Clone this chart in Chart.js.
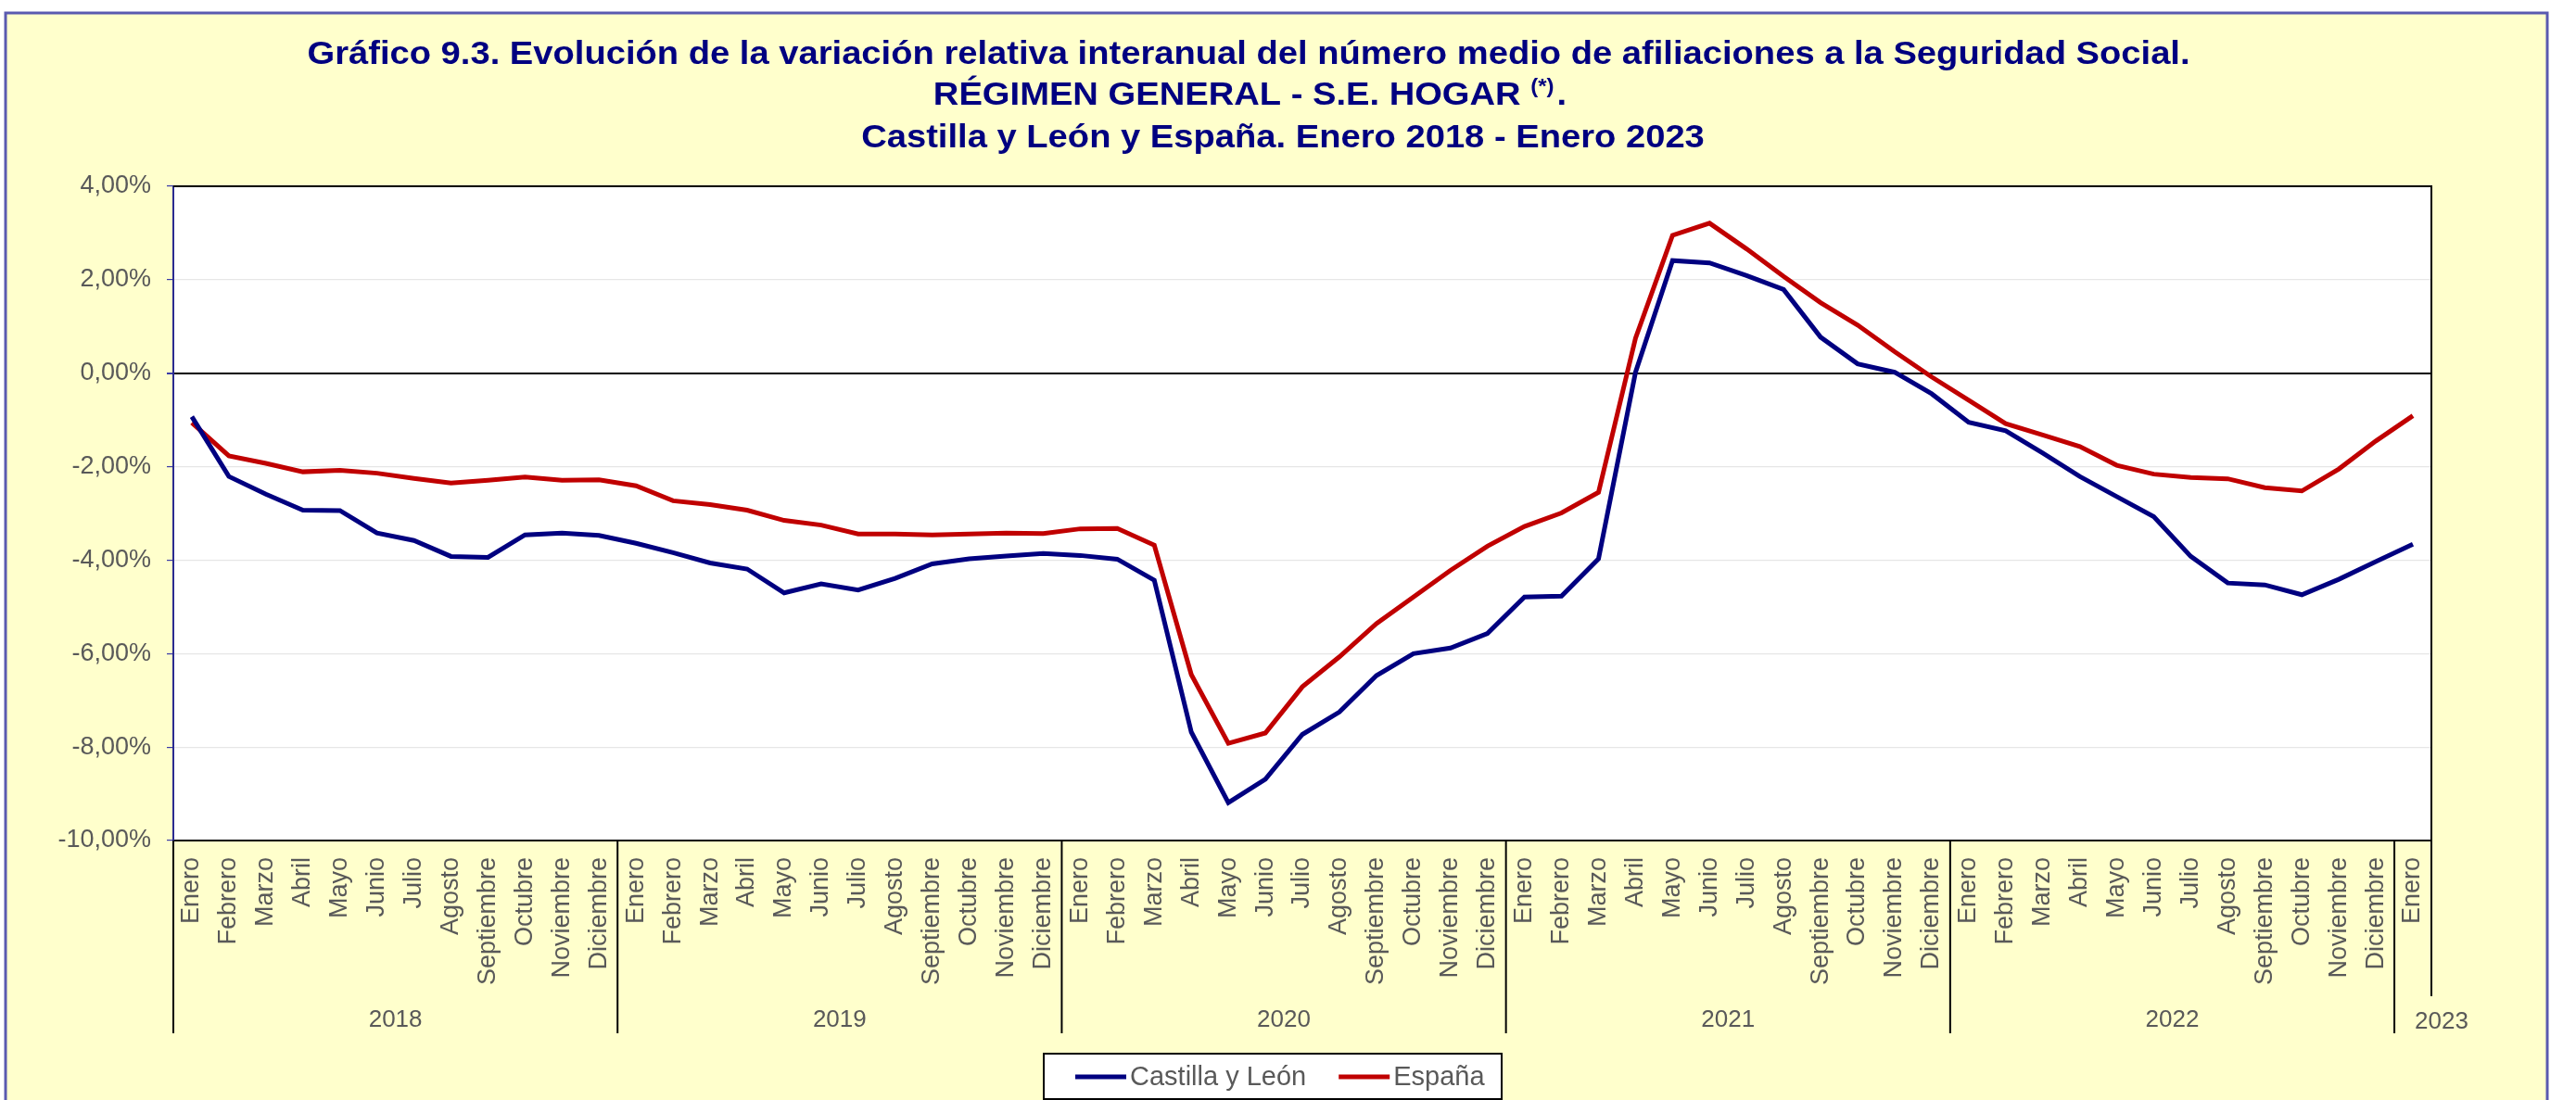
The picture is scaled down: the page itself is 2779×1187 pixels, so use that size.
<!DOCTYPE html>
<html>
<head>
<meta charset="utf-8">
<script src="https://cdn.jsdelivr.net/npm/chart.js@4"></script>
<style>
  body { margin: 0; background: #fff; }
  canvas { display: block; }
</style>
</head>
<body>
<canvas id="grafico" width="2779" height="1187"></canvas>
<script>
var meses = ['Enero','Febrero','Marzo','Abril','Mayo','Junio','Julio','Agosto','Septiembre','Octubre','Noviembre','Diciembre'];
var anios = [2018, 2019, 2020, 2021, 2022, 2023];
var mesesUltimoAnio = 1; // 2023 solo enero

var castillaLeon = [
  -0.93, -2.21, -2.59, -2.93, -2.94, -3.42, -3.58, -3.92, -3.94, -3.46, -3.42, -3.47,
  -3.64, -3.84, -4.06, -4.19, -4.70, -4.51, -4.64, -4.39, -4.08, -3.97, -3.91, -3.86,
  -3.90, -3.98, -4.43, -7.68, -9.19, -8.69, -7.73, -7.25, -6.47, -6.00, -5.88, -5.57,
  -4.79, -4.77, -3.97, 0.02, 2.41, 2.36, 2.09, 1.79, 0.77, 0.20, 0.02, -0.44,
  -1.05, -1.23, -1.71, -2.21, -2.64, -3.07, -3.92, -4.49, -4.53, -4.74, -4.41, -4.03,
  -3.66
];
var espana = [
  -1.06, -1.77, -1.93, -2.11, -2.08, -2.14, -2.25, -2.35, -2.29, -2.22, -2.29, -2.28,
  -2.41, -2.73, -2.81, -2.93, -3.15, -3.25, -3.44, -3.44, -3.46, -3.44, -3.42, -3.43,
  -3.33, -3.32, -3.68, -6.45, -7.92, -7.70, -6.71, -6.07, -5.36, -4.79, -4.22, -3.70,
  -3.28, -2.99, -2.55, 0.75, 2.95, 3.21, 2.66, 2.07, 1.51, 1.03, 0.46, -0.08,
  -0.58, -1.08, -1.32, -1.57, -1.97, -2.16, -2.23, -2.26, -2.45, -2.52, -2.05, -1.45,
  -0.91
];

var yMin = -10, yMax = 4, yPaso = 2;

var titulo1 = 'Gráfico 9.3. Evolución de la variación relativa interanual del número medio de afiliaciones a la Seguridad Social.';
var titulo2 = 'RÉGIMEN GENERAL - S.E. HOGAR ';
var titulo2sup = '(*)';
var titulo3 = 'Castilla y León y España. Enero 2018 - Enero 2023';

// etiquetas y anio de cada punto
var etiquetas = [];
var anioPunto = [];
for (let a = 0; a < anios.length; a++) {
  var n = (a == anios.length - 1) ? mesesUltimoAnio : 12;
  for (let m = 0; m < n; m++) {
    etiquetas.push(meses[m]);
    anioPunto.push(anios[a]);
  }
}

var fuente = "'Liberation Sans', Arial, sans-serif";
var gris = '#595959';

function formato(v) {
  return v.toFixed(2).replace('.', ',') + '%';
}

// texto del titulo algo ensanchado, como en el original
function textoAncho(c, txt, cx, y, esc) {
  c.save();
  c.translate(cx, y);
  c.scale(esc, 1);
  c.fillText(txt, 0, 0);
  c.restore();
}

var fondo = {
  id: 'fondo',
  beforeDraw: function(chart) {
    var c = chart.ctx;
    var a = chart.chartArea;
    c.save();
    c.fillStyle = '#ffffff';
    c.fillRect(0, 0, chart.width, chart.height);
    c.fillStyle = '#FFFFCC';
    c.fillRect(6, 14, 2742, chart.height);
    c.strokeStyle = '#5a5ab0';
    c.lineWidth = 3;
    c.strokeRect(6, 14, 2742, chart.height + 10);
    c.fillStyle = '#ffffff';
    c.fillRect(a.left, a.top, a.right - a.left, a.bottom - a.top);
    c.restore();
  },
  afterDraw: function(chart) {
    var c = chart.ctx;
    var a = chart.chartArea;
    var x = chart.scales.x;
    c.save();

    // marco del area de trazado
    c.strokeStyle = '#000000';
    c.lineWidth = 2;
    c.beginPath();
    c.moveTo(a.left, a.top);
    c.lineTo(a.right, a.top);
    c.lineTo(a.right, a.bottom);
    c.stroke();

    // separadores de anio y etiquetas
    var ancho = (x.getPixelForValue(1) - x.getPixelForValue(0));
    var inicio = 0;
    c.font = '26px ' + fuente;
    c.fillStyle = gris;
    c.textBaseline = 'middle';
    for (let i = 1; i <= anioPunto.length; i++) {
      if (i == anioPunto.length || anioPunto[i] != anioPunto[i - 1]) {
        var x0 = x.getPixelForValue(inicio) - ancho / 2;
        var x1 = x.getPixelForValue(i - 1) + ancho / 2;
        c.beginPath();
        c.moveTo(x0, a.bottom);
        c.lineTo(x0, a.bottom + 208);
        c.stroke();
        var txt = String(anioPunto[inicio]);
        if (x1 - x0 > c.measureText(txt).width + 10) {
          c.textAlign = 'center';
          c.fillText(txt, (x0 + x1) / 2, a.bottom + 194);
        } else {
          c.textAlign = 'left';
          c.fillText(txt, x0 + 22, a.bottom + 196);
        }
        if (i == anioPunto.length) {
          c.beginPath();
          c.moveTo(x1, a.bottom);
          c.lineTo(x1, a.bottom + 168);
          c.stroke();
        }
        inicio = i;
      }
    }

    // titulo
    var esc = 1.09;
    c.fillStyle = '#000080';
    c.textBaseline = 'alphabetic';
    c.textAlign = 'center';
    c.font = 'bold 35px ' + fuente;
    textoAncho(c, titulo1, 1347, 69, esc);
    textoAncho(c, titulo3, 1384, 159, esc);
    var w2 = c.measureText(titulo2).width * esc;
    var wp = c.measureText('.').width * esc;
    c.font = 'bold 22px ' + fuente;
    var ws = c.measureText(titulo2sup).width * esc;
    var xi = 1347 - (w2 + ws + wp) / 2;
    c.textAlign = 'left';
    c.font = 'bold 35px ' + fuente;
    textoAncho(c, titulo2, xi, 113, esc);
    textoAncho(c, '.', xi + w2 + ws + 3, 113, esc);
    c.font = 'bold 22px ' + fuente;
    textoAncho(c, titulo2sup, xi + w2, 100, esc);

    // leyenda
    var lx = 1126, ly = 1137, lw = 494, lh = 49;
    c.fillStyle = '#ffffff';
    c.fillRect(lx, ly, lw, lh);
    c.strokeStyle = '#000000';
    c.lineWidth = 2;
    c.strokeRect(lx, ly, lw, lh);
    c.font = '29px ' + fuente;
    c.textBaseline = 'middle';
    var px = lx + 34;
    var py = ly + 25;
    chart.data.datasets.forEach(function(ds) {
      c.strokeStyle = ds.borderColor;
      c.lineWidth = 5;
      c.beginPath();
      c.moveTo(px, py);
      c.lineTo(px + 55, py);
      c.stroke();
      c.fillStyle = gris;
      c.fillText(ds.label, px + 59, py + 1);
      px += 59 + c.measureText(ds.label).width + 35;
    });
    c.restore();
  }
};

var ctx = document.getElementById('grafico').getContext('2d');
var grafico = new Chart(ctx, {
  type: 'line',
  data: {
    labels: etiquetas,
    datasets: [{
      label: 'Castilla y León',
      data: castillaLeon,
      borderColor: '#000080',
      borderWidth: 5,
      pointRadius: 0,
      tension: 0
    }, {
      label: 'España',
      data: espana,
      borderColor: '#C00000',
      borderWidth: 5,
      pointRadius: 0,
      tension: 0
    }]
  },
  options: {
    responsive: false,
    animation: false,
    events: [],
    layout: { padding: { left: 0, top: 201, right: 156, bottom: 0 } },
    plugins: {
      legend: { display: false },
      title: { display: false },
      tooltip: { enabled: false }
    },
    scales: {
      x: {
        offset: true,
        grid: { display: false, drawTicks: false },
        border: { color: '#000000', width: 2 },
        ticks: {
          autoSkip: false,
          minRotation: 90,
          maxRotation: 90,
          padding: 18,
          color: gris,
          font: { family: fuente, size: 27 }
        },
        afterFit: function(scale) { scale.height = 280; }
      },
      y: {
        min: yMin,
        max: yMax,
        ticks: {
          stepSize: yPaso,
          padding: 17,
          color: gris,
          font: { family: fuente, size: 27 },
          callback: function(v) { return formato(v); }
        },
        grid: {
          tickLength: 7,
          tickColor: '#3a3aa8',
          color: function(c) {
            var v = c.tick.value;
            return (v == 0 || v == yMax || v == yMin) ? '#000000' : '#e6e6e6';
          },
          lineWidth: function(c) {
            return c.tick.value == 0 ? 2 : 1.2;
          }
        },
        border: { color: '#2a2a90', width: 2 },
        afterFit: function(scale) { scale.width = 187; }
      }
    }
  },
  plugins: [fondo]
});
</script>
</body>
</html>
